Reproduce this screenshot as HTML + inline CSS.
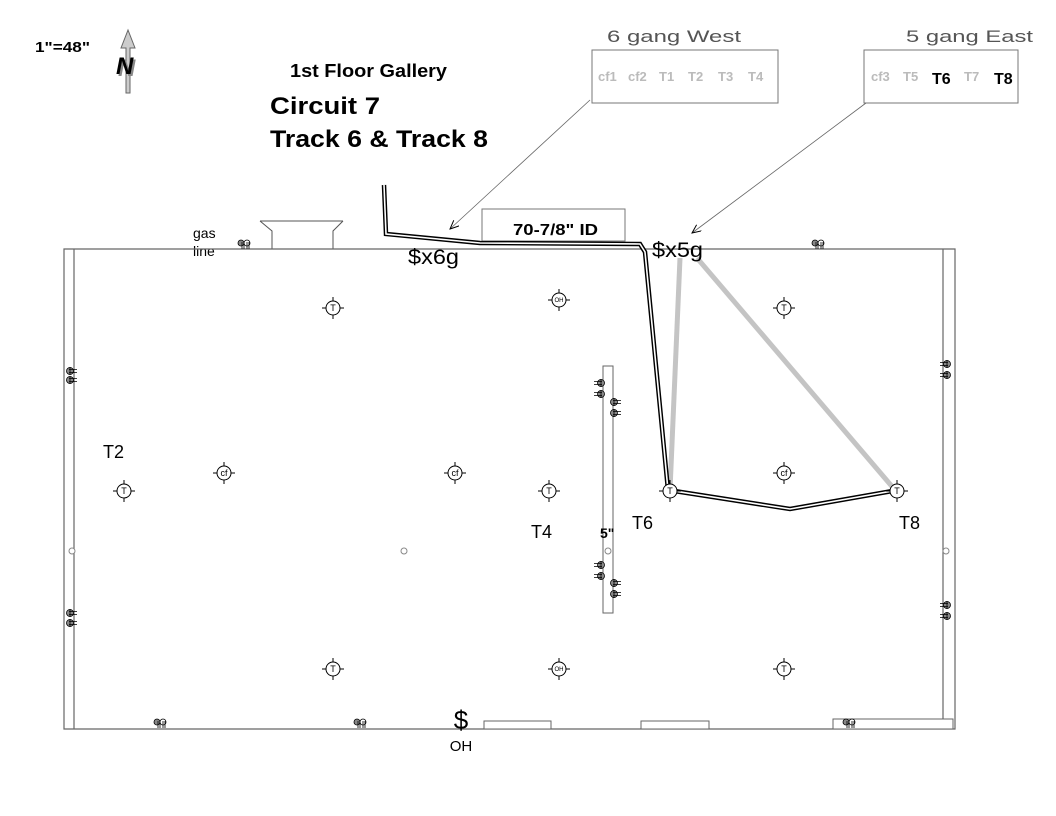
<!DOCTYPE html>
<html><head><meta charset="utf-8"><style>
html,body{margin:0;padding:0;background:#fff}
svg{display:block;font-family:"Liberation Sans",Arial,sans-serif}
</style></head><body>
<svg width="1056" height="816" viewBox="0 0 1056 816" xmlns="http://www.w3.org/2000/svg">
<defs>
<marker id="ah" markerWidth="10" markerHeight="8" refX="9" refY="4" orient="auto" markerUnits="userSpaceOnUse"><path d="M0,0 L9,4 L0,8" fill="none" stroke="#000" stroke-width="1"/></marker>
<g id="fx"><circle r="7" fill="#fff" stroke="#000" stroke-width="1"/><path d="M-11,0h4M7,0h4M0,-11v4M0,7v4" stroke="#000" stroke-width="1"/></g>
<g id="vp"><circle cx="-3" cy="0" r="3" fill="#888" stroke="#000" stroke-width=".8"/><circle cx="3" cy="0" r="3" fill="#fff" stroke="#000" stroke-width=".8"/><path d="M-2,-1v7M0,-1v7M3,-1v7M5,-1v7" stroke="#000" stroke-width=".8"/></g>
<g id="hr"><circle cx="0" cy="0" r="3.5" fill="#888" stroke="#000" stroke-width=".8"/><path d="M-1,-1.5h8M-1,1.5h8M0,-4v8" stroke="#000" stroke-width=".8"/></g>
<g id="hl"><circle cx="0" cy="0" r="3.5" fill="#888" stroke="#000" stroke-width=".8"/><path d="M1,-1.5h-8M1,1.5h-8M0,-4v8" stroke="#000" stroke-width=".8"/></g>
</defs>
<text x="35" y="52" font-size="15" font-weight="bold" textLength="55" lengthAdjust="spacingAndGlyphs">1"=48"</text>
<path d="M128,30 L121,48 L126,48 L126,93 L130,93 L130,48 L135,48 Z" fill="#ccc" stroke="#666" stroke-width="1"/>
<text x="118" y="76" font-size="24" font-weight="bold" font-style="italic" fill="#888">N</text>
<text x="116" y="74" font-size="24" font-weight="bold" font-style="italic">N</text>
<text x="290" y="77" font-size="18" font-weight="bold" textLength="157" lengthAdjust="spacingAndGlyphs">1st Floor Gallery</text>
<text x="270" y="114" font-size="24" font-weight="bold" textLength="110" lengthAdjust="spacingAndGlyphs">Circuit 7</text>
<text x="270" y="147" font-size="24" font-weight="bold" textLength="218" lengthAdjust="spacingAndGlyphs">Track 6 &amp; Track 8</text>
<text x="607" y="42" font-size="17" fill="#555" textLength="134" lengthAdjust="spacingAndGlyphs">6 gang West</text>
<rect x="592" y="50" width="186" height="53" fill="none" stroke="#777"/>
<g font-size="13" font-weight="bold" fill="#bbb"><text x="598" y="81">cf1</text><text x="628" y="81">cf2</text><text x="659" y="81">T1</text><text x="688" y="81">T2</text><text x="718" y="81">T3</text><text x="748" y="81">T4</text></g>
<text x="906" y="42" font-size="17" fill="#555" textLength="127" lengthAdjust="spacingAndGlyphs">5 gang East</text>
<rect x="864" y="50" width="154" height="53" fill="none" stroke="#777"/>
<g font-size="13" font-weight="bold" fill="#bbb"><text x="871" y="81">cf3</text><text x="903" y="81">T5</text><text x="964" y="81">T7</text></g>
<g font-size="16" font-weight="bold"><text x="932" y="84">T6</text><text x="994" y="84">T8</text></g>
<line x1="590" y1="100" x2="450" y2="229" stroke="#666" stroke-width=".8" marker-end="url(#ah)"/>
<line x1="866" y1="103" x2="692" y2="233" stroke="#666" stroke-width=".8" marker-end="url(#ah)"/>
<rect x="482" y="209" width="143" height="32" fill="none" stroke="#777"/>
<text x="513" y="235" font-size="16" font-weight="bold" textLength="85" lengthAdjust="spacingAndGlyphs">70-7/8" ID</text>
<path d="M260,221H343M260,221L272,231V249M343,221L333,231V249" fill="none" stroke="#555"/>
<text x="193" y="238" font-size="14">gas</text><text x="193" y="256" font-size="14">line</text>
<path d="M64,249H955V729H64Z M74,249V729 M943,249V729" fill="none" stroke="#666" stroke-width="1.2"/>
<rect x="484" y="721" width="67" height="8" fill="#fff" stroke="#666"/>
<rect x="641" y="721" width="68" height="8" fill="#fff" stroke="#666"/>
<rect x="833" y="719" width="120" height="10" fill="#fff" stroke="#666"/>
<rect x="603" y="366" width="10" height="247" fill="#fff" stroke="#666"/>
<g fill="#fff" stroke="#888"><circle cx="72" cy="551" r="3"/><circle cx="404" cy="551" r="3"/><circle cx="608" cy="551" r="3"/><circle cx="946" cy="551" r="3"/></g>
<line x1="680" y1="258" x2="670" y2="490" stroke="#c4c4c4" stroke-width="5"/>
<line x1="697" y1="258" x2="895" y2="490" stroke="#c4c4c4" stroke-width="5"/>
<g fill="none" stroke-linejoin="miter">
<path d="M384,185 L386,234 L480,243 L640,244 L645,252 L668,490 L790,509 L898,490" stroke="#000" stroke-width="4.5"/>
<path d="M384,185 L386,234 L480,243 L640,244 L645,252 L668,490 L790,509 L898,490" stroke="#fff" stroke-width="1.6"/>
</g>
<text x="408" y="264" font-size="21" textLength="51" lengthAdjust="spacingAndGlyphs">$x6g</text>
<text x="652" y="257" font-size="21" textLength="51" lengthAdjust="spacingAndGlyphs">$x5g</text>
<g font-size="9" text-anchor="middle">
<use href="#fx" x="333" y="308"/><text x="333" y="311">T</text>
<use href="#fx" x="784" y="308"/><text x="784" y="311">T</text>
<use href="#fx" x="124" y="491"/><text x="124" y="494">T</text>
<use href="#fx" x="549" y="491"/><text x="549" y="494">T</text>
<use href="#fx" x="670" y="491"/><text x="670" y="494">T</text>
<use href="#fx" x="897" y="491"/><text x="897" y="494">T</text>
<use href="#fx" x="333" y="669"/><text x="333" y="672">T</text>
<use href="#fx" x="784" y="669"/><text x="784" y="672">T</text>
<use href="#fx" x="224" y="473"/><text x="224" y="476">cf</text>
<use href="#fx" x="455" y="473"/><text x="455" y="476">cf</text>
<use href="#fx" x="784" y="473"/><text x="784" y="476">cf</text>
<use href="#fx" x="559" y="300"/><text x="559" y="302" font-size="6">OH</text>
<use href="#fx" x="559" y="669"/><text x="559" y="671" font-size="6">OH</text>
</g>
<g font-size="18"><text x="103" y="458">T2</text><text x="531" y="538">T4</text><text x="632" y="529">T6</text><text x="899" y="529">T8</text></g>
<text x="600" y="538" font-size="14" font-weight="bold">5"</text>
<use href="#vp" x="244" y="243"/><use href="#vp" x="818" y="243"/>
<use href="#vp" x="160" y="722"/><use href="#vp" x="360" y="722"/><use href="#vp" x="849" y="722"/>
<use href="#hr" x="70" y="371"/><use href="#hr" x="70" y="380"/>
<use href="#hr" x="70" y="613"/><use href="#hr" x="70" y="623"/>
<use href="#hl" x="947" y="364"/><use href="#hl" x="947" y="375"/>
<use href="#hl" x="947" y="605"/><use href="#hl" x="947" y="616"/>
<use href="#hl" x="601" y="383"/><use href="#hl" x="601" y="394"/>
<use href="#hr" x="614" y="402"/><use href="#hr" x="614" y="413"/>
<use href="#hl" x="601" y="565"/><use href="#hl" x="601" y="576"/>
<use href="#hr" x="614" y="583"/><use href="#hr" x="614" y="594"/>
<text x="461" y="729" font-size="26" text-anchor="middle">$</text>
<text x="461" y="751" font-size="15" text-anchor="middle">OH</text>
</svg>
</body></html>
